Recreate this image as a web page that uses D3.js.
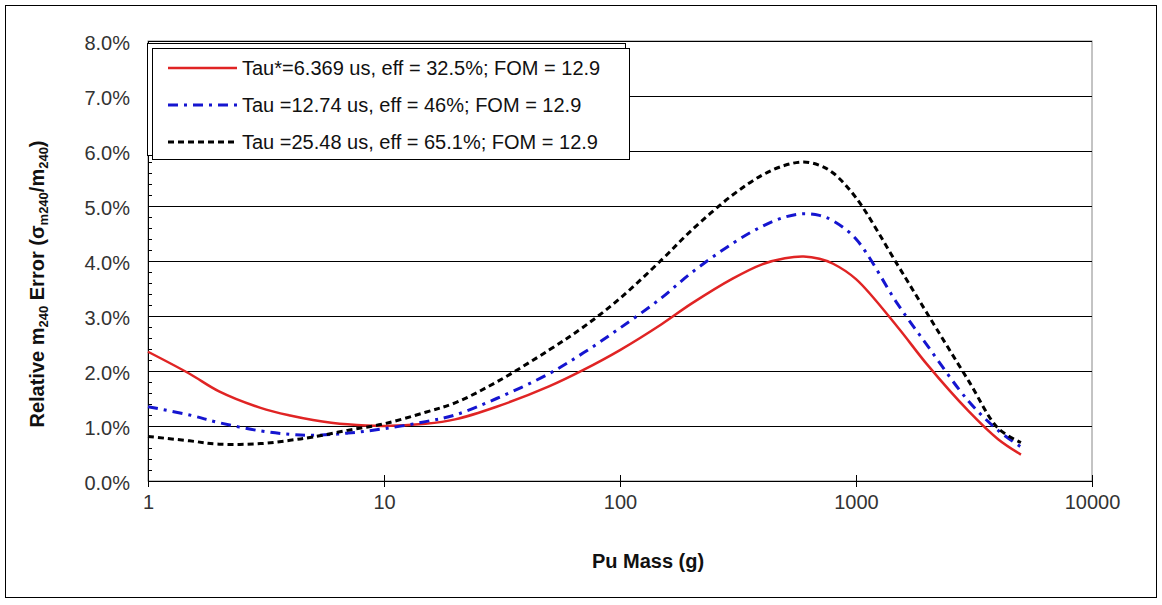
<html>
<head>
    <meta charset="utf-8">
    <title>Relative m240 Error</title>
    <script src="https://cdn.jsdelivr.net/npm/d3@7"></script>
</head>
<style>
    body { margin: 0; background: #fff; }
    text { font-family: "Liberation Sans", Arial, sans-serif; }
    .tick text { font-size: 20px; fill: #333; }
    .lgd { font-size: 20px; fill: #111; }
    .ttl { font-size: 20px; font-weight: bold; fill: #111; }
</style>
<body>
<script>
    var width = 1162;
    var height = 605;

    // Pu mass (g) and relative error (%)
    var mass = [1, 1.5, 2, 3, 4, 5, 7, 10, 15, 20, 30, 50, 70, 100, 150, 200, 300, 400, 500, 600, 700, 800, 1000, 1500, 2000, 3000, 4000, 5000];
    var tau6 = [2.35, 1.95, 1.63, 1.33, 1.19, 1.11, 1.03, 1.00, 1.04, 1.12, 1.35, 1.72, 2.02, 2.38, 2.85, 3.22, 3.68, 3.94, 4.05, 4.08, 4.04, 3.95, 3.67, 2.80, 2.12, 1.27, 0.76, 0.48];
    var tau12 = [1.35, 1.20, 1.06, 0.91, 0.85, 0.83, 0.87, 0.95, 1.08, 1.20, 1.50, 1.95, 2.33, 2.78, 3.33, 3.78, 4.32, 4.63, 4.80, 4.86, 4.83, 4.73, 4.40, 3.22, 2.47, 1.45, 0.92, 0.62];
    var tau25 = [0.81, 0.73, 0.67, 0.68, 0.74, 0.80, 0.92, 1.04, 1.25, 1.42, 1.80, 2.38, 2.80, 3.32, 4.02, 4.55, 5.20, 5.56, 5.74, 5.80, 5.74, 5.60, 5.15, 3.93, 3.05, 1.82, 0.96, 0.70];
    var seriesNames = [
        "Tau*=6.369 us, eff = 32.5%; FOM = 12.9",
        "Tau =12.74 us, eff = 46%; FOM = 12.9",
        "Tau =25.48 us, eff = 65.1%; FOM = 12.9"
    ];
    var xTicks = [1, 10, 100, 1000, 10000];
    var yTicks = [0, 0.01, 0.02, 0.03, 0.04, 0.05, 0.06, 0.07, 0.08];

    var styles = [
        {color: "#e02424", width: 2.5, dash: null},
        {color: "#1515d0", width: 3, dash: "10,6,3,6"},
        {color: "#000", width: 3, dash: "6,4"}
    ];
    var series = [tau6, tau12, tau25];

    var svg = d3.select("body").append("svg")
            .attr("width", width)
            .attr("height", height);

    // outer frame
    svg.append("rect")
            .attr("x", 5.5).attr("y", 5.5)
            .attr("width", 1151).attr("height", 592)
            .attr("fill", "#fff").attr("stroke", "#000");

    var x = d3.scaleLog().domain([1, 10000]).range([148, 1092]);
    var y = d3.scaleLinear().domain([0, 0.08]).range([481, 41]);

    // plot border
    svg.append("rect")
            .attr("x", 148).attr("y", 41)
            .attr("width", 1092 - 148).attr("height", 481 - 41)
            .attr("fill", "none").attr("stroke", "#888");

    // gridlines
    svg.append("g")
            .attr("transform", "translate(148,0)")
            .call(d3.axisLeft(y).tickValues(yTicks.slice(1)).tickSize(-(1092 - 148)).tickFormat(""))
            .call(function (g) {
                g.select(".domain").remove();
                g.selectAll("line").attr("stroke", "#000");
            });

    // y labels
    svg.append("g")
            .attr("transform", "translate(148,0)")
            .call(d3.axisLeft(y).tickValues(yTicks).tickSize(0).tickPadding(18).tickFormat(d3.format(".1%")))
            .call(function (g) {
                g.select(".domain").attr("stroke", "#000");
                g.selectAll("text").attr("dy", "0.38em").attr("y", 1);
            });

    // minor ticks on y
    svg.append("g")
            .attr("transform", "translate(148,0)")
            .call(d3.axisRight(y).tickValues(d3.range(0, 41).map(function (i) { return i * 0.002; })).tickSize(4).tickFormat(""))
            .call(function (g) {
                g.select(".domain").remove();
                g.selectAll("line").attr("stroke", "#000");
            });

    // x axis
    svg.append("g")
            .attr("transform", "translate(0,481)")
            .call(d3.axisBottom(x).tickValues(xTicks).tickSize(6).tickPadding(8).tickFormat(d3.format("d")))
            .call(function (g) {
                g.select(".domain").attr("stroke", "#000");
                g.selectAll("line").attr("stroke", "#000").attr("y1", -6);
            });

    // curves
    var line = d3.line()
            .x(function (d) { return x(d[0]); })
            .y(function (d) { return y(d[1] / 100); })
            .curve(d3.curveCatmullRom.alpha(0.5));

    series.forEach(function (s, i) {
        svg.append("path")
                .datum(mass.map(function (m, j) { return [m, s[j]]; }))
                .attr("fill", "none")
                .attr("stroke", styles[i].color)
                .attr("stroke-width", styles[i].width)
                .attr("stroke-dasharray", styles[i].dash)
                .attr("d", line);
    });

    // legend
    svg.append("rect")
            .attr("x", 147.5).attr("y", 43.5)
            .attr("width", 478).attr("height", 112)
            .attr("fill", "#fff").attr("stroke", "#000");
    svg.append("rect")
            .attr("x", 152.5).attr("y", 48.5)
            .attr("width", 477).attr("height", 111)
            .attr("fill", "#fff").attr("stroke", "#000");

    seriesNames.forEach(function (name, i) {
        var ly = 68 + i * 37;
        svg.append("line")
                .attr("x1", 168).attr("x2", 237)
                .attr("y1", ly).attr("y2", ly)
                .attr("stroke", styles[i].color)
                .attr("stroke-width", styles[i].width)
                .attr("stroke-dasharray", styles[i].dash);
        svg.append("text")
                .attr("class", "lgd")
                .attr("x", 242).attr("y", ly + 7)
                .text(name);
    });

    // axis titles
    svg.append("text")
            .attr("class", "ttl")
            .attr("x", 648).attr("y", 568)
            .attr("text-anchor", "middle")
            .text("Pu Mass (g)");

    var yt = svg.append("text")
            .attr("class", "ttl")
            .attr("font-size", "18px")
            .attr("text-anchor", "middle")
            .attr("transform", "translate(44,284) rotate(-90)");
    yt.append("tspan").text("Relative m");
    yt.append("tspan").attr("font-size", "13px").attr("dy", 4).text("240");
    yt.append("tspan").attr("dy", -4).text(" Error (");
    yt.append("tspan").text("σ");
    yt.append("tspan").attr("font-size", "13px").attr("dy", 4).text("m240");
    yt.append("tspan").attr("dy", -4).text("/m");
    yt.append("tspan").attr("font-size", "13px").attr("dy", 4).text("240");
    yt.append("tspan").attr("dy", -4).text(")");
</script>
</body>
</html>
